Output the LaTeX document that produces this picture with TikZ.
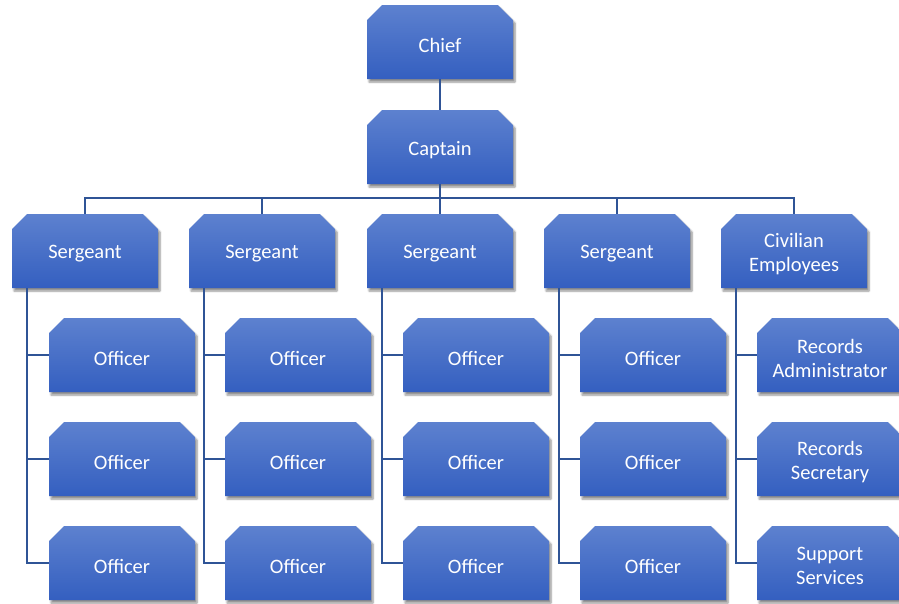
\documentclass[tikz,border=0pt]{standalone}
\usepackage{fontspec}
\setmainfont{Carlito}
\usetikzlibrary{shapes.misc,shadows.blur}
\definecolor{boxtop}{RGB}{93,129,207}
\definecolor{boxbot}{RGB}{52,95,192}
\definecolor{conncol}{RGB}{47,84,150}
\tikzset{
  orgbox/.style={chamfered rectangle, chamfered rectangle corners={north west,north east},
    chamfered rectangle xsep=8pt, chamfered rectangle ysep=8pt,
    minimum width=146pt, minimum height=74pt, inner sep=0pt,
    top color=boxtop, bottom color=boxbot, draw=none,
    font=\fontsize{20.5}{24}\selectfont,
    blur shadow={shadow xshift=2pt, shadow yshift=-3pt, shadow opacity=45, shadow blur steps=6},
    label={[boxtext]center:#1}},
  boxtext/.style={text=white, align=center, inner sep=0pt, yshift=-3pt,
    font=\fontsize{20.5}{24}\selectfont},
  conn/.style={draw=conncol, line width=2.3pt}
}
\newcommand\ph{\phantom{Officer}}
\begin{document}
\begin{tikzpicture}[x=1pt,y=1pt]
\useasboundingbox (0,0) rectangle (899,-603);
\node[orgbox=Chief] (chief) at (440,-42) {\ph};
\node[orgbox=Captain] (cap) at (440,-147) {\ph};
\node[orgbox=Sergeant] (s1) at (85,-251) {\ph};
\node[orgbox=Sergeant] (s2) at (262,-251) {\ph};
\node[orgbox=Sergeant] (s3) at (440,-251) {\ph};
\node[orgbox=Sergeant] (s4) at (617,-251) {\ph};
\node[orgbox={Civilian\\Employees}] (s5) at (794,-251) {\ph};
\foreach \c/\x in {1/122,2/298,3/476,4/653}{
  \node[orgbox=Officer] (o\c1) at (\x,-355) {\ph};
  \node[orgbox=Officer] (o\c2) at (\x,-459) {\ph};
  \node[orgbox=Officer] (o\c3) at (\x,-563) {\ph};
}
\node[orgbox={Records\\Administrator}] (o51) at (830,-355) {\ph};
\node[orgbox={Records\\Secretary}] (o52) at (830,-459) {\ph};
\node[orgbox={Support\\Services}] (o53) at (830,-563) {\ph};
\draw[conn] (chief.south) -- (cap.north);
\coordinate (bus) at ([yshift=-14pt]cap.south);
\draw[conn] (s1.north) |- (bus) -| (s5.north);
\draw[conn] (cap.south) -- (s3.north);
\draw[conn] (s2.north) -- (s2.north |- bus);
\draw[conn] (s4.north) -- (s4.north |- bus);
\foreach \c in {1,...,5}{
  \coordinate (sp\c) at ([xshift=15pt]s\c.south west);
  \draw[conn] (sp\c) |- (o\c3.west);
  \draw[conn] (sp\c |- o\c1.west) -- (o\c1.west);
  \draw[conn] (sp\c |- o\c2.west) -- (o\c2.west);
}
\end{tikzpicture}
\end{document}
